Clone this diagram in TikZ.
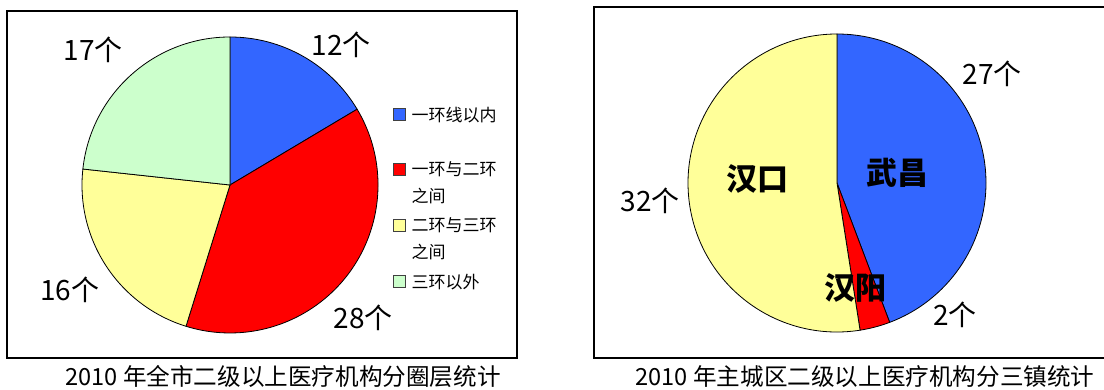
\documentclass[tikz,border=0pt]{standalone}
\usepackage{fontspec}
\setmainfont{Noto Sans CJK SC}
\usetikzlibrary{positioning}
\definecolor{pieblue}{HTML}{3366FF}
\definecolor{piered}{HTML}{FF0000}
\definecolor{pieyellow}{HTML}{FFFF99}
\definecolor{piegreen}{HTML}{CCFFCC}
\tikzstyle{frame} = [draw, line width=1.5pt]
\tikzstyle{slice} = [draw=black, line width=0.8pt]
\tikzstyle{count} = [font=\fontsize{28}{28}\selectfont, inner sep=0pt]
\tikzstyle{town} = [font=\fontsize{31}{31}\selectfont\bfseries, inner sep=0pt]
\tikzstyle{legbox} = [draw=black!75, line width=1pt, minimum size=12pt, inner sep=0pt]
\tikzstyle{legtext} = [font=\fontsize{17}{27}\selectfont, align=left, inner sep=0pt]
\tikzstyle{caption} = [font=\fontsize{23.6}{23.6}\selectfont, inner sep=0pt]

\begin{document}
\begin{tikzpicture}[x=1pt, y=1pt]
        \useasboundingbox (0,0) rectangle (1104,390);
        % left chart: rings
        \draw[frame] (7,379) rectangle (517,32);
        \coordinate (lc) at (230,205);
        \filldraw[slice, fill=pieblue] (lc) -- ++(90:148) arc[start angle=90, end angle=30.8, radius=148] -- cycle;
        \filldraw[slice, fill=piered] (lc) -- ++(30.8:148) arc[start angle=30.8, end angle=-107.3, radius=148] -- cycle;
        \filldraw[slice, fill=pieyellow] (lc) -- ++(-107.3:148) arc[start angle=-107.3, end angle=-186.2, radius=148] -- cycle;
        \filldraw[slice, fill=piegreen] (lc) -- ++(173.8:148) arc[start angle=173.8, end angle=90, radius=148] -- cycle;
        \node[count] (ninner) at (341,345) {12个};
        \node[count] (nmid) at (363,72) {28个};
        \node[count] (nouter) at (70,100) {16个};
        \node[count] (nfar) at (93,340) {17个};
        \node[legbox, fill=pieblue] (keyinner) at (399,275) {};
        \node[legbox, fill=piered] (keymid) at (399,220) {};
        \node[legbox, fill=pieyellow] (keyouter) at (399,164) {};
        \node[legbox, fill=piegreen] (keyfar) at (399,108) {};
        \node[legtext] (txtinner) [right=6pt of keyinner] {一环线以内};
        \node[legtext, anchor=north west] (txtmid) at ([xshift=6pt, yshift=2.5pt]keymid.north east) {一环与二环\\之间};
        \node[legtext, anchor=north west] (txtouter) at ([xshift=6pt, yshift=2.5pt]keyouter.north east) {二环与三环\\之间};
        \node[legtext] (txtfar) [right=6pt of keyfar] {三环以外};
        \node[caption] (capleft) at (283,13) {2010 年全市二级以上医疗机构分圈层统计};
        % right chart: towns
        \draw[frame] (1104,383) -- (594,383) -- (594,32) -- (1104,32);
        \coordinate (rc) at (837,207);
        \filldraw[slice, fill=pieblue] (rc) -- ++(90:149) arc[start angle=90, end angle=-69.3, radius=149] -- cycle;
        \filldraw[slice, fill=piered] (rc) -- ++(-69.3:149) arc[start angle=-69.3, end angle=-81.1, radius=149] -- cycle;
        \filldraw[slice, fill=pieyellow] (rc) -- ++(-81.1:149) arc[start angle=-81.1, end angle=-270, radius=149] -- cycle;
        \node[town] (wuchang) at (897,217) {武昌};
        \node[town] (hankou) at (757,211) {汉口};
        \node[town] (hanyang) at (855,102) {汉阳};
        \node[count] (nwuchang) at (992,316) {27个};
        \node[count] (nhanyang) at (955,75) {2个};
        \node[count] (nhankou) at (650,189) {32个};
        \node[caption] (capright) at (865,13) {2010 年主城区二级以上医疗机构分三镇统计};
    \end{tikzpicture}
\end{document}
